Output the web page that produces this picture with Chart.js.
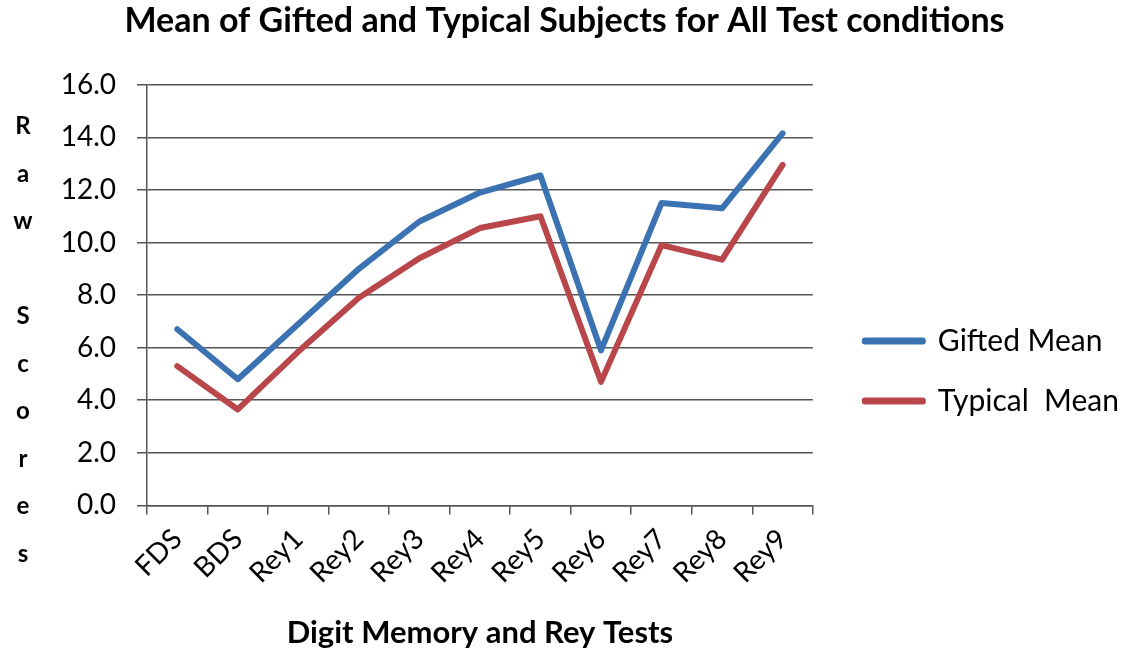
<!DOCTYPE html>
<html lang="en">
<head>
  <meta charset="UTF-8">
  <title>Mean of Gifted and Typical Subjects</title>
  <script src="https://cdn.jsdelivr.net/npm/chart.js"></script>
  <style>
    html, body { margin: 0; padding: 0; background: #fff; }
    #wrap { width: 1129px; height: 652px; }
  </style>
</head>
<body>
  <div id="wrap"><canvas id="meanChart"></canvas></div>

  <script>
    // Data
    const tests = ['FDS', 'BDS', 'Rey1', 'Rey2', 'Rey3', 'Rey4', 'Rey5', 'Rey6', 'Rey7', 'Rey8', 'Rey9'];
    const giftedMean = [6.7, 4.8, 6.9, 9.0, 10.8, 11.9, 12.55, 5.9, 11.5, 11.3, 14.15];
    const typicalMean = [5.3, 3.65, 5.85, 7.9, 9.4, 10.55, 11.0, 4.7, 9.9, 9.35, 12.95];
    const yTicks = [0, 2, 4, 6, 8, 10, 12, 14, 16];
    const yTitleLetters = ['R', 'a', 'w', '', 'S', 'c', 'o', 'r', 'e', 's'];

    const FONT = 'Lato, "Open Sans", sans-serif';
    const gridColor = '#555555';

    // stacked letters for the y axis title
    const stackedTitle = {
      id: 'stackedTitle',
      afterDraw(chart) {
        const ctx = chart.ctx;
        ctx.save();
        ctx.font = 'bold 24px ' + FONT;
        ctx.fillStyle = '#000';
        ctx.textAlign = 'center';
        ctx.textBaseline = 'alphabetic';
        yTitleLetters.forEach((ch, i) => {
          ctx.fillText(ch, 23, 134 + i * 47.5);
        });
        ctx.restore();
      }
    };

    const ctx = document.getElementById('meanChart').getContext('2d');
    new Chart(ctx, {
      type: 'line',
      data: {
        labels: tests,
        datasets: [
          {
            label: 'Gifted Mean',
            data: giftedMean,
            borderColor: '#3a72b2',
            backgroundColor: '#3a72b2',
            borderWidth: 6,
            borderCapStyle: 'round',
            borderJoinStyle: 'round',
            pointRadius: 0,
            tension: 0
          },
          {
            label: 'Typical  Mean',
            data: typicalMean,
            borderColor: '#b9464a',
            backgroundColor: '#b9464a',
            borderWidth: 6,
            borderCapStyle: 'round',
            borderJoinStyle: 'round',
            pointRadius: 0,
            tension: 0
          }
        ]
      },
      options: {
        responsive: true,
        maintainAspectRatio: false,
        animation: false,
        layout: { padding: { left: 0, right: 0, top: 0, bottom: 0 } },
        plugins: {
          title: {
            display: true,
            text: 'Mean of Gifted and Typical Subjects for All Test conditions',
            color: '#000',
            font: { family: FONT, size: 34, weight: 'bold' },
            padding: { top: 1, bottom: 43 }
          },
          legend: {
            position: 'right',
            align: 'start',
            maxWidth: 340,
            title: { display: true, text: ' ', font: { family: FONT, size: 30 }, padding: { top: 260, bottom: 0 } },
            labels: {
              color: '#000',
              font: { family: FONT, size: 30 },
              boxWidth: 58,
              boxHeight: 1,
              padding: 30
            }
          },
          tooltip: { enabled: false }
        },
        scales: {
          x: {
            offset: true,
            grid: {
              offset: true,
              drawOnChartArea: false,
              color: gridColor,
              lineWidth: 1.5,
              tickLength: 9
            },
            border: { color: gridColor, width: 1.5 },
            ticks: {
              color: '#000',
              font: { family: FONT, size: 28 },
              maxRotation: 45,
              minRotation: 45,
              padding: 8
            },
            title: {
              display: true,
              text: 'Digit Memory and Rey Tests',
              color: '#000',
              font: { family: FONT, size: 31, weight: 'bold' },
              padding: { top: 17, bottom: 0 }
            }
          },
          y: {
            min: 0,
            max: 16,
            afterFit(scale) { scale.width = 147; },
            afterBuildTicks(scale) { scale.ticks = yTicks.map(v => ({ value: v })); },
            grid: {
              color: gridColor,
              lineWidth: 1.5,
              tickLength: 10
            },
            border: { color: gridColor, width: 1.5 },
            ticks: {
              color: '#000',
              font: { family: FONT, size: 28 },
              padding: 21,
              callback: v => Number(v).toFixed(1)
            }
          },
          y2: {
            position: 'right',
            display: true,
            afterFit(scale) { scale.width = 22; },
            grid: { display: false, drawTicks: false },
            border: { display: false },
            ticks: { display: false }
          }
        }
      },
      plugins: [stackedTitle]
    });
  </script>
</body>
</html>
